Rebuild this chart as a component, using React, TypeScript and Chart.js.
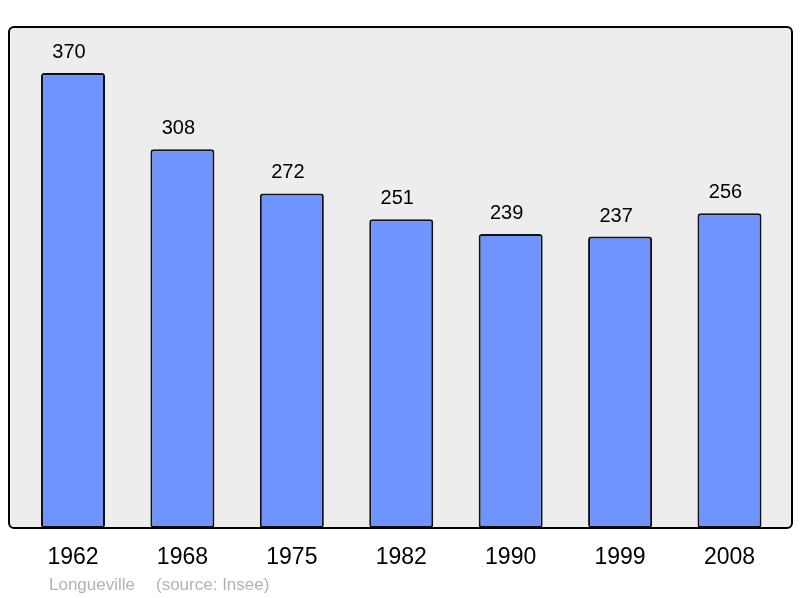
import React, { useEffect, useRef } from "react";
import { Chart, registerables } from "chart.js";

Chart.register(...registerables);

const categories = ["1962", "1968", "1975", "1982", "1990", "1999", "2008"];
const population = [370, 308, 272, 251, 239, 237, 256];
const footerPlace = "Longueville";
const footerSource = "(source: Insee)";

const FONT = "'Liberation Sans', Arial, sans-serif";

const framePlugin = {
  id: "frame",
  beforeDraw(chart: any) {
    const { ctx, chartArea } = chart;
    const x0 = 9, x1 = 792, y0 = chartArea.top, y1 = chartArea.bottom;
    ctx.save();
    ctx.fillStyle = "#ffffff";
    ctx.fillRect(0, 0, chart.width, chart.height);
    ctx.beginPath();
    ctx.roundRect(x0, y0, x1 - x0, y1 - y0, 5);
    ctx.fillStyle = "#ededed";
    ctx.fill();
    ctx.restore();
  },
  afterDatasetsDraw(chart: any) {
    const { ctx, chartArea } = chart;
    const x0 = 9, x1 = 792, y0 = chartArea.top, y1 = chartArea.bottom;
    ctx.save();
    // value labels
    const meta = chart.getDatasetMeta(0);
    ctx.fillStyle = "#000000";
    ctx.font = `20px ${FONT}`;
    ctx.textAlign = "center";
    ctx.textBaseline = "alphabetic";
    meta.data.forEach((bar: any, i: number) => {
      ctx.fillText(String(chart.data.datasets[0].data[i]), bar.x - 4, bar.y - 15);
    });
    // frame border
    ctx.beginPath();
    ctx.roundRect(x0, y0, x1 - x0, y1 - y0, 5);
    ctx.lineWidth = 2;
    ctx.strokeStyle = "#000000";
    ctx.stroke();
    // footer
    ctx.font = `17px ${FONT}`;
    ctx.fillStyle = "#b3b3b3";
    ctx.textAlign = "left";
    ctx.textBaseline = "middle";
    ctx.fillText(footerPlace, 49, 585);
    ctx.fillText(footerSource, 156, 585);
    ctx.restore();
  },
};

export default function App() {
  const ref = useRef<HTMLCanvasElement | null>(null);
  useEffect(() => {
    document.body.style.margin = "0";
    const chart = new Chart(ref.current as HTMLCanvasElement, {
      type: "bar",
      data: {
        labels: categories,
        datasets: [
          {
            data: population,
            backgroundColor: "#7094ff",
            borderColor: "#111111",
            borderWidth: 2,
            borderRadius: 3,
            borderSkipped: false,
            barPercentage: 0.585,
            categoryPercentage: 1,
          },
        ],
      },
      options: {
        animation: false,
        responsive: false,
        maintainAspectRatio: false,
        layout: { padding: { left: 18.3, right: 15.8, top: 27, bottom: 10.5 } },
        plugins: {
          legend: { display: false },
          tooltip: { enabled: false },
          title: { display: false },
        },
        scales: {
          x: {
            offset: true,
            grid: { display: false, drawTicks: false },
            border: { display: false },
            ticks: {
              color: "#000000",
              font: { family: FONT, size: 23 },
              padding: 16,
              maxRotation: 0,
            },
          },
          y: {
            display: false,
            min: 0,
            max: 407.4,
          },
        },
      },
      plugins: [framePlugin],
    });
    return () => chart.destroy();
  }, []);
  return (
    <div style={{ position: "absolute", left: 0, top: 0, width: 800, height: 598 }}>
      <canvas ref={ref} width={800} height={598} style={{ width: 800, height: 598 }} />
    </div>
  );
}
